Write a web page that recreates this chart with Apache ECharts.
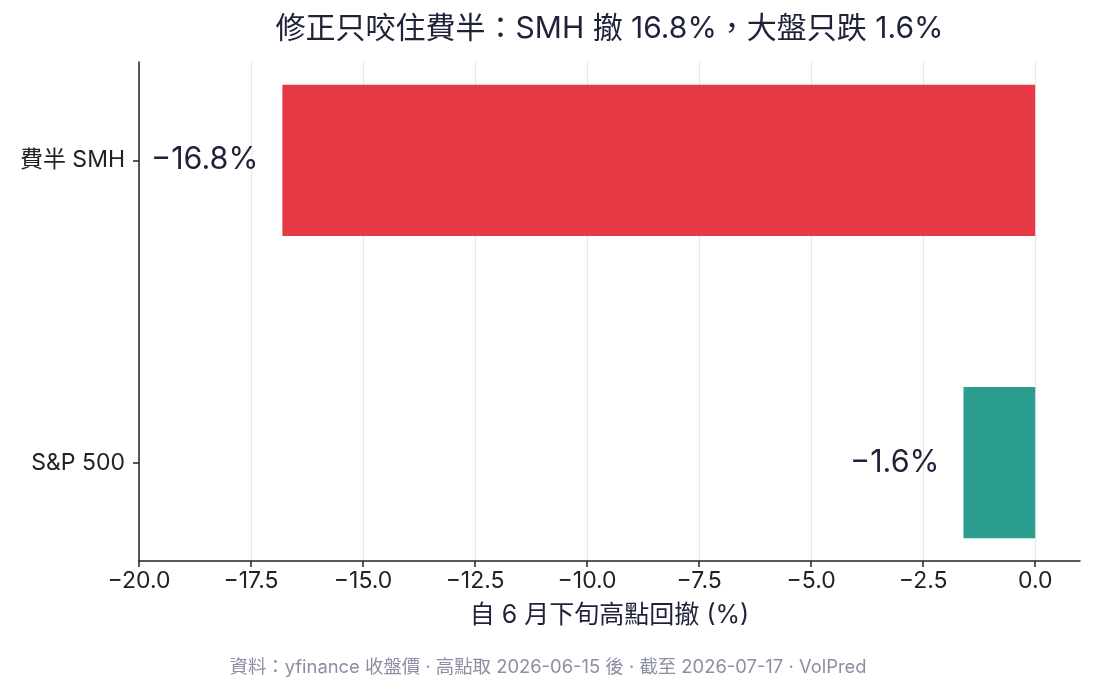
<!DOCTYPE html>
<html>
<head>
<meta charset="utf-8">
<script src="https://cdn.jsdelivr.net/npm/echarts@6/dist/echarts.min.js"></script>
<style>
  html, body { margin: 0; padding: 0; background: #fff; }
  #chart { width: 1095px; height: 693px; }
</style>
</head>
<body>
<div id="chart"></div>
<script>
// 資料
var categories = ['S&P 500', '費半 SMH'];
var drawdowns = [-1.6, -16.8];
var barColors = ['#2a9d8f', '#e63946'];
var tickValues = [-20, -17.5, -15, -12.5, -10, -7.5, -5, -2.5, 0];
var catTicks = [0, 1];

var FONT = 'Inter, "Noto Sans CJK TC", sans-serif';

// 畫面配置 (y 軸用數值範圍, 讓類別置中)
var plotTop = 62, plotBottom = 132, H = 693;
var yMin = -0.325, yMax = 1.325;
var pxPerUnit = (H - plotTop - plotBottom) / (yMax - yMin);
var barGridTop = plotTop + (yMax - 1.5) * pxPerUnit;
var barGridBottom = plotBottom + (-0.5 - yMin) * pxPerUnit;

function fmtMinus(v, digits) {
    var s = Math.abs(v).toFixed(digits);
    return (v < 0 ? '\u2212' : '') + s;
}

var chart = echarts.init(document.getElementById('chart'));

var option = {
    backgroundColor: '#fff',
    animation: false,
    textStyle: { fontFamily: FONT },
    grid: [
        { left: 139, right: 15, top: plotTop, bottom: plotBottom },
        { left: 139, right: 15, top: barGridTop, bottom: barGridBottom }
    ],
    graphic: [
        {
            type: 'text', x: 609.5, y: 29,
            style: {
                text: '修正只咬住費半：SMH 撤 16.8%，大盤只跌 1.6%',
                font: '30px ' + FONT, fill: '#1f2238',
                align: 'center', verticalAlign: 'middle'
            }
        },
        {
            type: 'text', x: 548, y: 667,
            style: {
                text: '資料：yfinance 收盤價 · 高點取 2026-06-15 後 · 截至 2026-07-17 · VolPred',
                font: '18.4px ' + FONT, fill: '#8c8fa3',
                align: 'center', verticalAlign: 'middle'
            }
        }
    ],
    xAxis: [
        {
            type: 'value', gridIndex: 0,
            min: -20, max: 1,
            name: '自 6 月下旬高點回撤 (%)',
            nameLocation: 'middle',
            nameGap: 42,
            nameTextStyle: { fontSize: 25, color: '#1f2238' },
            axisLine: { show: true, onZero: false, lineStyle: { color: '#222', width: 1.5 } },
            axisTick: { show: true, length: 6, lineStyle: { color: '#222', width: 1.5 }, customValues: tickValues },
            axisLabel: {
                fontSize: 23, color: '#222', margin: 9,
                customValues: tickValues,
                formatter: function (v) { return fmtMinus(v, 1); }
            },
            splitLine: { show: true, lineStyle: { color: '#e8e8e8', width: 1.2 } }
        },
        { type: 'value', gridIndex: 1, min: -20, max: 1, show: false }
    ],
    yAxis: [
        {
            type: 'value', gridIndex: 0,
            min: yMin, max: yMax,
            axisLine: { show: true, onZero: false, lineStyle: { color: '#222', width: 1.5 } },
            axisTick: { show: true, length: 6, lineStyle: { color: '#222', width: 1.5 }, customValues: catTicks },
            axisLabel: {
                fontSize: 23, color: '#222', margin: 14,
                customValues: catTicks,
                formatter: function (v) { return categories[Math.round(v)]; }
            },
            splitLine: { show: false }
        },
        { type: 'category', gridIndex: 1, data: categories, show: false }
    ],
    series: [{
        type: 'bar',
        xAxisIndex: 1,
        yAxisIndex: 1,
        barCategoryGap: '50%',
        data: drawdowns.map(function (v, i) {
            return { value: v, itemStyle: { color: barColors[i] } };
        }),
        label: {
            show: true,
            position: 'left',
            distance: 24,
            fontSize: 30.5,
            color: '#1f2238',
            formatter: function (p) { return fmtMinus(p.value, 1) + '%'; }
        }
    }]
};

chart.setOption(option);
</script>
</body>
</html>
